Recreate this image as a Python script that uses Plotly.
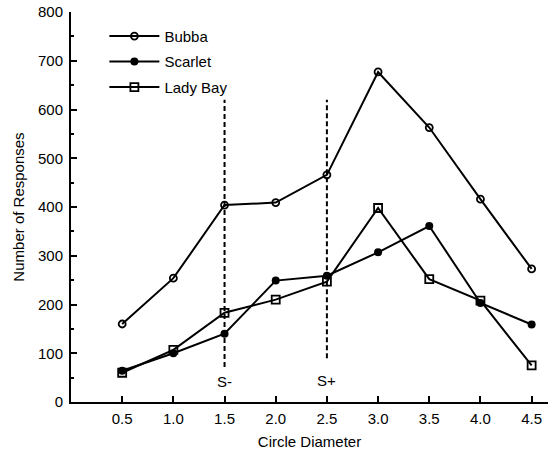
import plotly.graph_objects as go

x_vals = [0.5, 1.0, 1.5, 2.0, 2.5, 3.0, 3.5, 4.0, 4.5]
bubba = [160, 254, 404, 409, 466, 677, 563, 416, 273]
scarlet = [64, 100, 140, 249, 259, 307, 361, 203, 159]
lady_bay = [60, 107, 183, 210, 247, 398, 252, 208, 75]

s_minus_x = 1.5
s_plus_x = 2.5
s_minus_span = [72, 620]
s_plus_span = [90, 620]
marker_labels = ["S-", "S+"]

font_family = "Liberation Sans, Arial, sans-serif"

fig = go.Figure()
fig.add_trace(go.Scatter(
    x=x_vals, y=bubba, name="Bubba", mode="lines+markers", legendgroup="a",
    line=dict(color="black", width=2),
    marker=dict(symbol="circle-open", size=7, color="black", line=dict(width=1.8)),
))
fig.add_trace(go.Scatter(
    x=x_vals, y=scarlet, name="Scarlet", mode="lines+markers", legendgroup="b",
    line=dict(color="black", width=2),
    marker=dict(symbol="circle", size=8, color="black"),
))
fig.add_trace(go.Scatter(
    x=x_vals, y=lady_bay, name="Lady Bay", mode="lines+markers", legendgroup="c",
    line=dict(color="black", width=2),
    marker=dict(symbol="square-open", size=8, color="black", line=dict(width=1.8)),
))

for xv, span in [(s_minus_x, s_minus_span), (s_plus_x, s_plus_span)]:
    fig.add_shape(type="line", x0=xv, x1=xv, y0=span[0], y1=span[1],
                  xref="x", yref="y", line=dict(color="black", width=2, dash="5px,3px"))

fig.add_annotation(x=s_minus_x, y=42, text=marker_labels[0], showarrow=False,
                   font=dict(family=font_family, size=15, color="black"))
fig.add_annotation(x=s_plus_x, y=45, text=marker_labels[1], showarrow=False,
                   font=dict(family=font_family, size=15, color="black"))

fig.update_layout(
    width=557, height=451,
    margin=dict(l=71, r=9, t=12, b=49),
    paper_bgcolor="white", plot_bgcolor="white",
    font=dict(family=font_family, size=15, color="black"),
    showlegend=True,
    legend=dict(x=0.07, y=0.98, xanchor="left", yanchor="top",
                bgcolor="rgba(0,0,0,0)", font=dict(size=15),
                tracegroupgap=3, traceorder="grouped", itemwidth=50),
    xaxis=dict(
        range=[0, 4.66], tickvals=x_vals, ticktext=[f"{v:.1f}" for v in x_vals],
        showline=True, linecolor="black", linewidth=2,
        ticks="inside", ticklen=6, tickwidth=2, tickcolor="black",
        showgrid=False, zeroline=False, automargin=False,
        ticklabelstandoff=2,
        title=dict(text="Circle Diameter", font=dict(size=15), standoff=10),
    ),
    yaxis=dict(
        range=[0, 800], dtick=100,
        showline=True, linecolor="black", linewidth=2,
        ticks="inside", ticklen=6, tickwidth=2, tickcolor="black",
        minor=dict(dtick=50, ticks="inside", ticklen=3, tickwidth=2, tickcolor="black"),
        showgrid=False, zeroline=False, automargin=False,
        ticklabelstandoff=3,
        title=dict(text="Number of Responses", font=dict(size=15), standoff=10),
    ),
)

fig.write_html("out.html", config={"displayModeBar": False},
               post_script="document.body.style.margin='0px';document.body.style.overflow='hidden';")
